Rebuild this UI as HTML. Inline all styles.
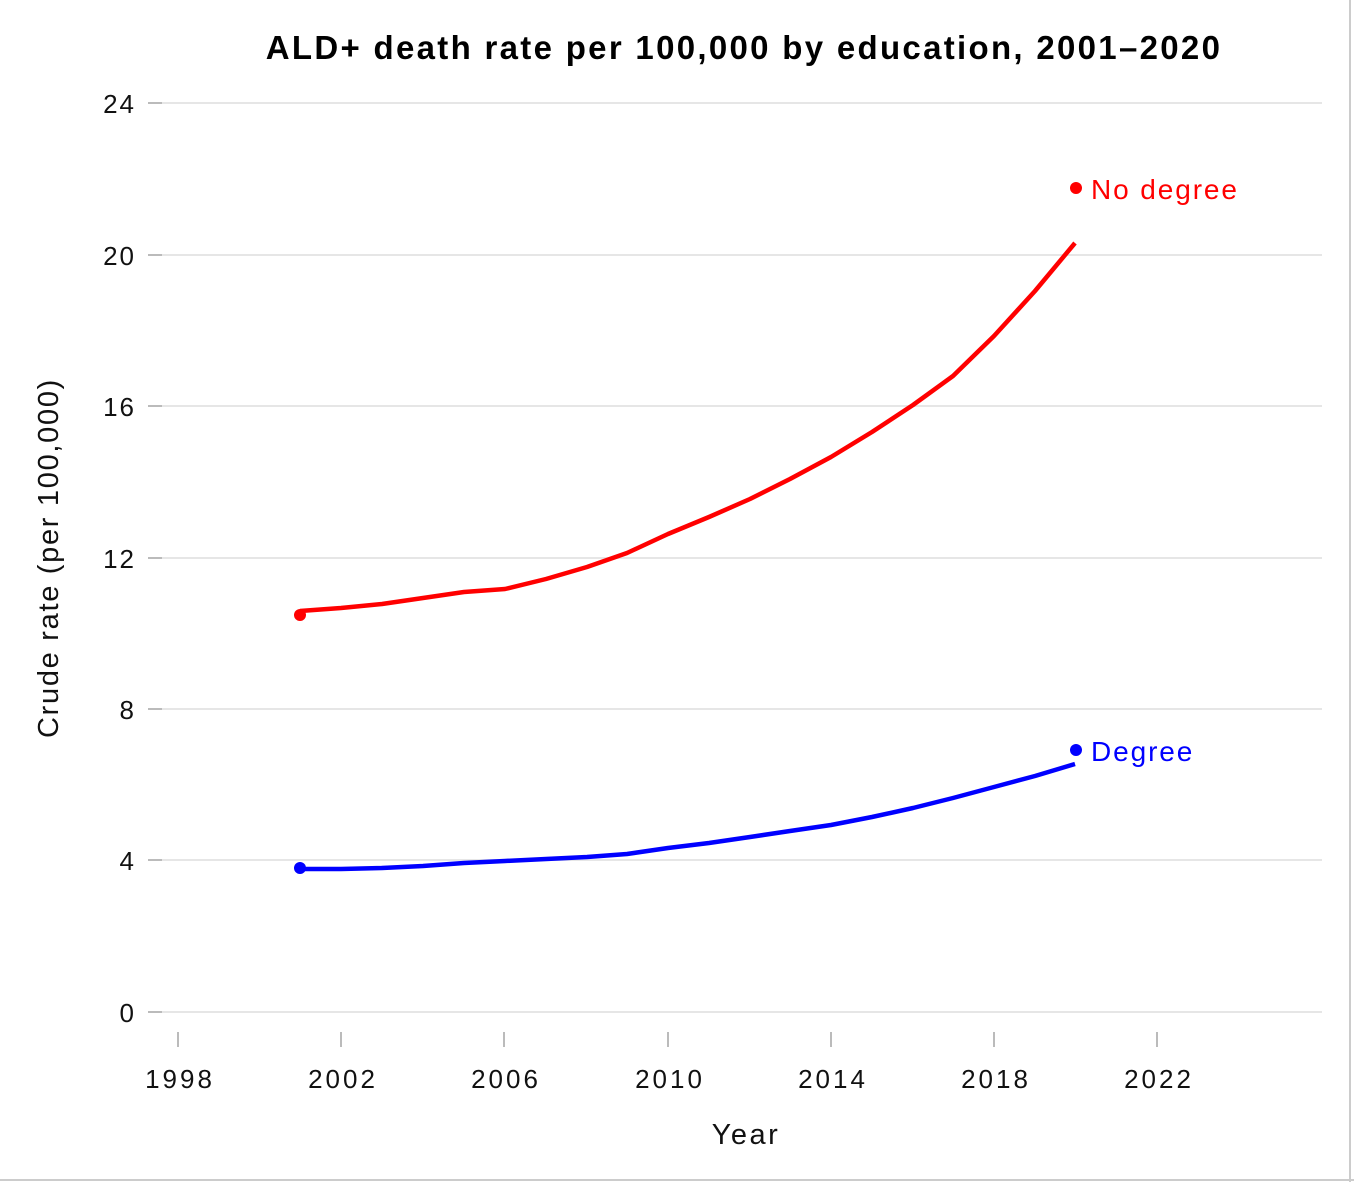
<!DOCTYPE html>
<html><head><style>
body{margin:0;background:#fff;}
svg{display:block;font-family:"Liberation Sans",Arial,sans-serif;}
</style></head><body>
<svg width="1354" height="1182" viewBox="0 0 1354 1182">
<rect x="0" y="0" width="1354" height="1182" fill="#fff"/>
<line x1="1350" y1="0" x2="1350" y2="1182" stroke="#ccc" stroke-width="2"/>
<line x1="0" y1="1180" x2="1354" y2="1180" stroke="#ccc" stroke-width="2"/>
<text x="744" y="59" text-anchor="middle" font-size="33" font-weight="bold" fill="#000" letter-spacing="2.3">ALD+ death rate per 100,000 by education, 2001–2020</text>
<g stroke="#e6e6e6" stroke-width="2">
<line x1="162" y1="103" x2="1322" y2="103"/>
<line x1="162" y1="255" x2="1322" y2="255"/>
<line x1="162" y1="406" x2="1322" y2="406"/>
<line x1="162" y1="558" x2="1322" y2="558"/>
<line x1="162" y1="709" x2="1322" y2="709"/>
<line x1="162" y1="860" x2="1322" y2="860"/>
<line x1="162" y1="1012" x2="1322" y2="1012"/>
</g>
<g stroke="#bbb" stroke-width="2">
<line x1="148" y1="103" x2="162" y2="103"/><line x1="148" y1="255" x2="162" y2="255"/>
<line x1="148" y1="406" x2="162" y2="406"/><line x1="148" y1="558" x2="162" y2="558"/>
<line x1="148" y1="709" x2="162" y2="709"/><line x1="148" y1="860" x2="162" y2="860"/>
<line x1="148" y1="1012" x2="162" y2="1012"/>
<line x1="178" y1="1032" x2="178" y2="1047"/><line x1="341" y1="1032" x2="341" y2="1047"/>
<line x1="504" y1="1032" x2="504" y2="1047"/><line x1="668" y1="1032" x2="668" y2="1047"/>
<line x1="831" y1="1032" x2="831" y2="1047"/><line x1="994" y1="1032" x2="994" y2="1047"/>
<line x1="1157" y1="1032" x2="1157" y2="1047"/>
</g>
<g font-size="26" fill="#111" text-anchor="end" letter-spacing="2">
<text x="136" y="113">24</text><text x="136" y="265">20</text><text x="136" y="416">16</text>
<text x="136" y="568">12</text><text x="136" y="719">8</text><text x="136" y="870">4</text><text x="136" y="1022">0</text>
</g>
<g font-size="26" fill="#111" text-anchor="middle" letter-spacing="3">
<text x="180" y="1088">1998</text><text x="343" y="1088">2002</text><text x="506" y="1088">2006</text>
<text x="670" y="1088">2010</text><text x="833" y="1088">2014</text><text x="996" y="1088">2018</text>
<text x="1159" y="1088">2022</text>
</g>
<text x="746" y="1144" text-anchor="middle" font-size="29" fill="#111" letter-spacing="2.5">Year</text>
<text transform="translate(58,558) rotate(-90)" text-anchor="middle" font-size="29" fill="#111" letter-spacing="1.7">Crude rate (per 100,000)</text>
<polyline fill="none" stroke="#f00" stroke-width="4.5" stroke-linejoin="round" points="300,611 341,608 382,604 423,598 464,592 505,589 546,579 587,567 627,553 668,534 709,517 750,499 790,479 831,457 872,432 913,405 953,376 994,336 1035,291 1075,243"/>
<polyline fill="none" stroke="#00f" stroke-width="4.5" stroke-linejoin="round" points="300,869 341,869 382,868 423,866 464,863 505,861 546,859 587,857 627,854 668,848 709,843 750,837 790,831 831,825 872,817 913,808 953,798 994,787 1035,776 1075,764"/>
<circle cx="300" cy="615" r="6" fill="#f00"/>
<circle cx="1076" cy="188" r="6" fill="#f00"/>
<circle cx="300" cy="868" r="6" fill="#00f"/>
<circle cx="1076" cy="750" r="6" fill="#00f"/>
<text x="1091" y="199" font-size="28" fill="#f00" letter-spacing="1.9">No degree</text>
<text x="1091" y="761" font-size="28" fill="#00f" letter-spacing="1.9">Degree</text>
</svg>
</body></html>
